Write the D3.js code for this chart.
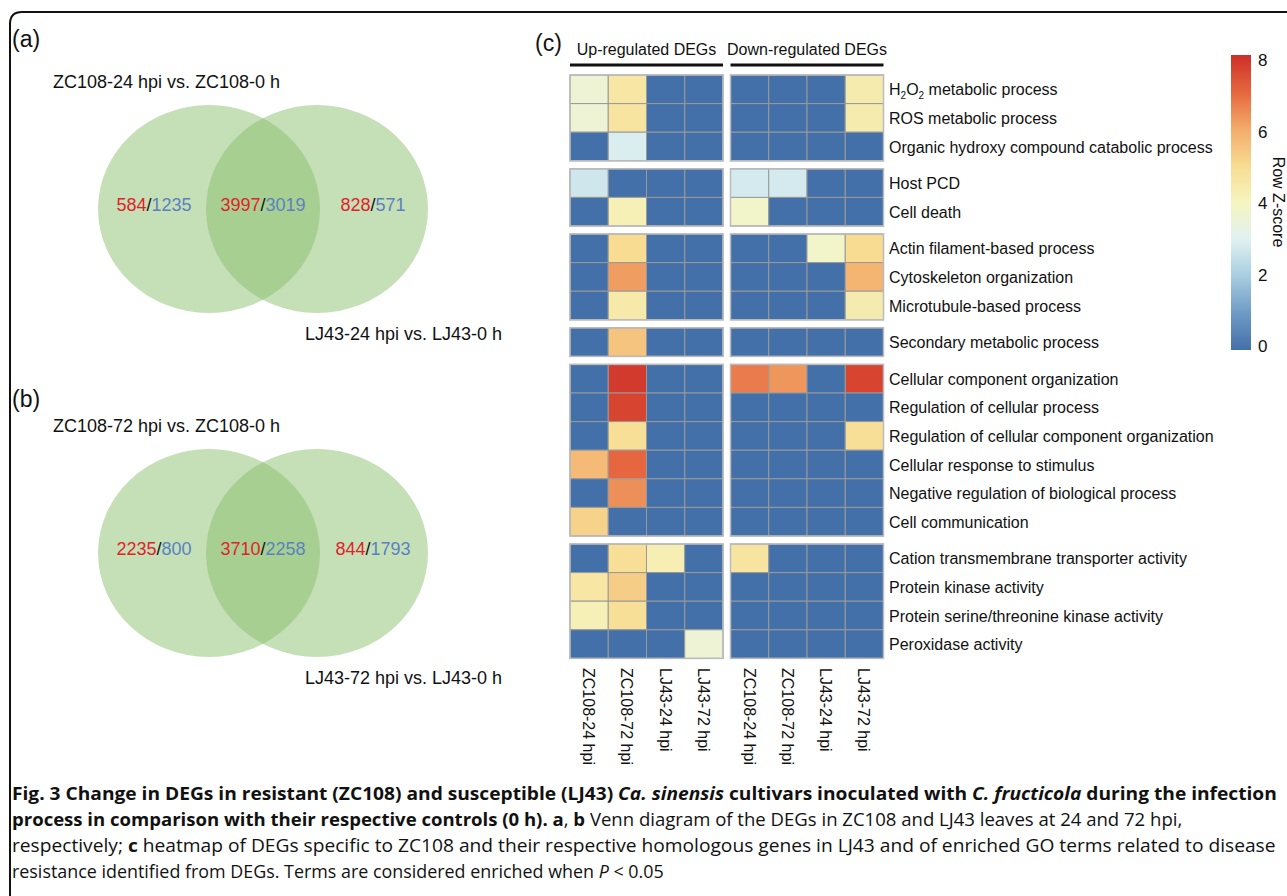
<!DOCTYPE html>
<html>
<head>
<meta charset="utf-8">
<script src="https://cdn.jsdelivr.net/npm/d3@7"></script>
<style>
  body { margin: 0; background: #fff; }
  svg text { font-family: "Liberation Sans", Arial, sans-serif; fill: #111; }
  .cap { font-family: "Open Sans", "Noto Sans", sans-serif; font-size: 18px; }
</style>
</head>
<body>
<div class="container"></div>
<script>
const W = 1287, H = 896;

// ---- Venn data: [up, down] counts for left only / shared / right only
const vennTitlesA = ["ZC108-24 hpi vs. ZC108-0 h", "LJ43-24 hpi vs. LJ43-0 h"];
const vennTitlesB = ["ZC108-72 hpi vs. ZC108-0 h", "LJ43-72 hpi vs. LJ43-0 h"];
const vennCountsA = [[584, 1235], [3997, 3019], [828, 571]];
const vennCountsB = [[2235, 800], [3710, 2258], [844, 1793]];

// ---- heatmap data
const columns = ["ZC108-24 hpi", "ZC108-72 hpi", "LJ43-24 hpi", "LJ43-72 hpi"];
const blocks = ["Up-regulated DEGs", "Down-regulated DEGs"];
const rowLabels = [
  "H2O2 metabolic process", "ROS metabolic process", "Organic hydroxy compound catabolic process",
  "Host PCD", "Cell death",
  "Actin filament-based process", "Cytoskeleton organization", "Microtubule-based process",
  "Secondary metabolic process",
  "Cellular component organization", "Regulation of cellular process",
  "Regulation of cellular component organization", "Cellular response to stimulus",
  "Negative regulation of biological process", "Cell communication",
  "Cation transmembrane transporter activity", "Protein kinase activity",
  "Protein serine/threonine kinase activity", "Peroxidase activity"
];
const rowGroup = [0,0,0, 1,1, 2,2,2, 3, 4,4,4,4,4,4, 5,5,5,5];
const upValues = [
  [3.6, 4.6, 0, 0], [3.6, 4.7, 0, 0], [0, 2.9, 0, 0],
  [2.7, 0, 0, 0], [0, 4.2, 0, 0],
  [0, 5.0, 0, 0], [0, 6.2, 0, 0], [0, 4.5, 0, 0],
  [0, 5.5, 0, 0],
  [0, 7.8, 0, 0], [0, 7.6, 0, 0], [0, 4.9, 0, 0], [5.7, 7.0, 0, 0], [0, 6.4, 0, 0], [5.2, 0, 0, 0],
  [0, 4.9, 4.3, 0], [4.6, 5.3, 0, 0], [4.2, 4.9, 0, 0], [0, 0, 0, 3.6]
];
const downValues = [
  [0, 0, 0, 4.4], [0, 0, 0, 4.4], [0, 0, 0, 0],
  [2.8, 2.8, 0, 0], [3.8, 0, 0, 0],
  [0, 0, 3.8, 5.0], [0, 0, 0, 5.8], [0, 0, 0, 4.4],
  [0, 0, 0, 0],
  [6.7, 6.3, 0, 7.6], [0, 0, 0, 0], [0, 0, 0, 4.9], [0, 0, 0, 0], [0, 0, 0, 0], [0, 0, 0, 0],
  [4.7, 0, 0, 0], [0, 0, 0, 0], [0, 0, 0, 0], [0, 0, 0, 0]
];
const scoreTicks = [0, 2, 4, 6, 8];
const colorStops = ["#4470a9", "#6e9ac6", "#a8cde0", "#e0f1f1", "#f6f5c0", "#f7dc92", "#f3ab6a", "#e5663f", "#cd2f28"];

const svg = d3.select(".container").append("svg")
  .attr("width", W).attr("height", H);

// frame with rounded top-left corner
svg.append("path")
  .attr("d", "M10,900 L10,24 Q10,12 22,12 L1300,12")
  .attr("fill", "none").attr("stroke", "#111").attr("stroke-width", 2);

// ---------- Venn diagrams
function drawVenn(g, label, labelY, titles, counts) {
  const x = d3.scaleLinear().domain([0, 1]).range([209, 317]);
  g.append("text").attr("x", 12).attr("y", labelY).attr("font-size", 23).text(label);
  g.append("text").attr("x", 53).attr("y", 46).attr("font-size", 18).text(titles[0]);
  g.append("text").attr("x", 305).attr("y", 298).attr("font-size", 18).text(titles[1]);
  g.selectAll("ellipse").data([0, 1]).join("ellipse")
    .attr("cx", d => x(d)).attr("cy", 167)
    .attr("rx", 111).attr("ry", 104)
    .attr("fill", "#8bbf6d").attr("fill-opacity", 0.5);
  const cx = [x(0) - 55, (x(0) + x(1)) / 2, x(1) + 56];
  const t = g.selectAll(".cnt").data(counts).join("text")
    .attr("class", "cnt")
    .attr("x", (d, i) => cx[i]).attr("y", 169)
    .attr("text-anchor", "middle").attr("font-size", 18);
  t.append("tspan").attr("fill", "#e0232b").text(d => d[0]);
  t.append("tspan").text("/");
  t.append("tspan").attr("fill", "#5b82c0").text(d => d[1]);
}
drawVenn(svg.append("g").attr("transform", "translate(0,42)"), "(a)", 5, vennTitlesA, vennCountsA);
drawVenn(svg.append("g").attr("transform", "translate(0,386)"), "(b)", 21, vennTitlesB, vennCountsB);

// ---------- heatmap
const rowH = 28.6, gap = 8, hmTop = 75;
const y = d3.scaleBand().domain(d3.range(rowLabels.length)).range([hmTop, hmTop + rowH * rowLabels.length]);
const rowY = i => y(i) + rowGroup[i] * gap;
const blockX = d3.scaleOrdinal().domain(blocks).range([570, 730.5]);
const x = d3.scaleBand().domain(columns).range([0, 153]);

const color = d3.scaleLinear()
  .domain(d3.range(colorStops.length).map(i => i * 8 / (colorStops.length - 1)))
  .range(colorStops).interpolate(d3.interpolateRgb).clamp(true);

svg.append("text").attr("x", 535).attr("y", 51).attr("font-size", 23).text("(c)");

const blockData = [upValues, downValues];
blocks.forEach((b, bi) => {
  const g = svg.append("g").attr("transform", `translate(${blockX(b)},0)`);
  g.append("text").attr("x", 76.5).attr("y", 55).attr("text-anchor", "middle")
    .attr("font-size", 16).text(b);
  g.append("line").attr("x1", 0).attr("x2", 153).attr("y1", 65).attr("y2", 65)
    .attr("stroke", "#111").attr("stroke-width", 3);

  const cells = [];
  blockData[bi].forEach((row, ri) => row.forEach((v, ci) => cells.push({ri, ci, v})));
  g.selectAll("rect.cell").data(cells).join("rect")
    .attr("class", "cell")
    .attr("x", d => x(columns[d.ci]))
    .attr("y", d => rowY(d.ri))
    .attr("width", x.bandwidth()).attr("height", y.bandwidth())
    .attr("fill", d => color(d.v))
    .attr("stroke", "#999").attr("stroke-width", 1);

  // group outlines
  const groups = d3.groups(d3.range(rowLabels.length), i => rowGroup[i]);
  g.selectAll("rect.grp").data(groups).join("rect")
    .attr("class", "grp")
    .attr("x", 0).attr("y", d => rowY(d[1][0]))
    .attr("width", 153).attr("height", d => y.bandwidth() * d[1].length)
    .attr("fill", "none").attr("stroke", "#bbb").attr("stroke-width", 1.5);

  g.selectAll("text.col").data(columns).join("text")
    .attr("class", "col")
    .attr("transform", d => `translate(${x(d) + x.bandwidth() / 2 - 6},668) rotate(90)`)
    .attr("font-size", 16).text(d => d);
});

// row labels
const lab = svg.selectAll("text.row").data(rowLabels).join("text")
  .attr("class", "row")
  .attr("x", 889).attr("y", (d, i) => rowY(i) + y.bandwidth() / 2 + 6)
  .attr("font-size", 16);
lab.each(function(d) {
  const t = d3.select(this);
  if (d.startsWith("H2O2")) {
    t.append("tspan").text("H");
    t.append("tspan").attr("font-size", 10).attr("dy", 4).text("2");
    t.append("tspan").attr("dy", -4).text("O");
    t.append("tspan").attr("font-size", 10).attr("dy", 4).text("2");
    t.append("tspan").attr("dy", -4).text(" metabolic process");
  } else t.text(d);
});

// colour legend
const ly = d3.scaleLinear().domain([0, 8]).range([346, 60]);
const grad = svg.append("defs").append("linearGradient")
  .attr("id", "zgrad").attr("x1", 0).attr("x2", 0).attr("y1", 1).attr("y2", 0);
grad.selectAll("stop").data(colorStops).join("stop")
  .attr("offset", (d, i) => i / (colorStops.length - 1))
  .attr("stop-color", d => d);
svg.append("rect").attr("x", 1231).attr("y", ly(8) - 5).attr("width", 20)
  .attr("height", ly(0) - ly(8) + 9).attr("fill", "url(#zgrad)");
svg.selectAll("text.tick").data(scoreTicks).join("text")
  .attr("class", "tick")
  .attr("x", 1258).attr("y", d => ly(d) + 6).attr("font-size", 17).text(d => d);
svg.append("text").attr("transform", "translate(1273,202) rotate(90)")
  .attr("text-anchor", "middle").attr("font-size", 16).text("Row Z-score");

// ---------- caption
const capLines = [
  {y: 800, w: 1266, parts: [
    ["Fig. 3 Change in DEGs in resistant (ZC108) and susceptible (LJ43) ", "b"], ["Ca. sinensis", "bi"],
    [" cultivars inoculated with ", "b"], ["C. fructicola", "bi"], [" during the infection", "b"]]},
  {y: 826, w: 1171, parts: [
    ["process in comparison with their respective controls (0 h). a", "b"], [", ", ""], ["b", "b"],
    [" Venn diagram of the DEGs in ZC108 and LJ43 leaves at 24 and 72 hpi,", ""]]},
  {y: 852, w: 1264, parts: [
    ["respectively; ", ""], ["c", "b"],
    [" heatmap of DEGs specific to ZC108 and their respective homologous genes in LJ43 and of enriched GO terms related to disease", ""]]},
  {y: 878, w: 652, parts: [
    ["resistance identified from DEGs. Terms are considered enriched when ", ""], ["P", "i"], [" < 0.05", ""]]}
];
capLines.forEach(l => {
  const g = svg.append("g");
  const t = g.append("text").attr("class", "cap").attr("x", 0).attr("y", 0);
  l.parts.forEach(p => {
    t.append("tspan")
      .attr("font-weight", p[1].includes("b") ? 700 : 400)
      .attr("font-style", p[1].includes("i") ? "italic" : "normal")
      .text(p[0]);
  });
  const nat = t.node().getComputedTextLength();
  g.attr("transform", `translate(12,${l.y}) scale(${l.w / nat},1)`);
});
</script>
</body>
</html>
